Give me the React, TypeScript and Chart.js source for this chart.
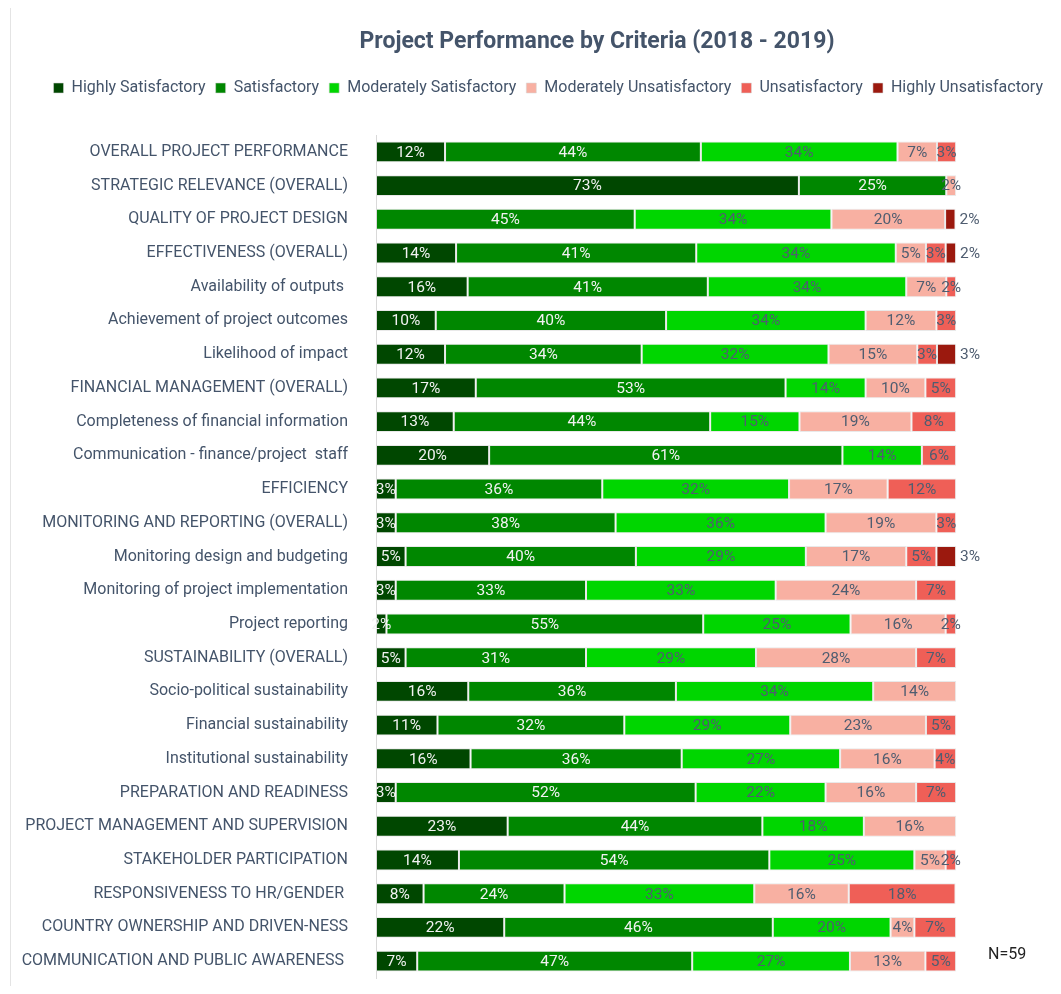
import React, { useEffect, useRef } from "react";
import { Chart, registerables } from "chart.js";

Chart.register(...registerables);

const categories = [
  "OVERALL PROJECT PERFORMANCE",
  "STRATEGIC RELEVANCE (OVERALL)",
  "QUALITY OF PROJECT DESIGN",
  "EFFECTIVENESS (OVERALL)",
  "Availability of outputs ",
  "Achievement of project outcomes",
  "Likelihood of impact",
  "FINANCIAL MANAGEMENT (OVERALL)",
  "Completeness of financial information",
  "Communication - finance/project  staff",
  "EFFICIENCY",
  "MONITORING AND REPORTING (OVERALL)",
  "Monitoring design and budgeting",
  "Monitoring of project implementation",
  "Project reporting",
  "SUSTAINABILITY (OVERALL)",
  "Socio-political sustainability",
  "Financial sustainability",
  "Institutional sustainability",
  "PREPARATION AND READINESS",
  "PROJECT MANAGEMENT AND SUPERVISION",
  "STAKEHOLDER PARTICIPATION",
  "RESPONSIVENESS TO HR/GENDER ",
  "COUNTRY OWNERSHIP AND DRIVEN-NESS",
  "COMMUNICATION AND PUBLIC AWARENESS ",
];

const highlySatisfactory = [11.9, 72.9, 0, 13.8, 15.8, 10.3, 11.9, 17.2, 13.4, 19.5, 3.4, 3.4, 5.1, 3.4, 1.8, 5.1, 15.9, 10.6, 16.3, 3.4, 22.7, 14.3, 8.2, 22.1, 7.1];
const satisfactory = [44.1, 25.4, 44.6, 41.4, 41.4, 39.7, 33.9, 53.4, 44.2, 60.9, 35.6, 37.9, 39.7, 32.8, 54.6, 31.1, 35.8, 32.2, 36.4, 51.7, 43.9, 53.5, 24.3, 46.3, 47.4];
const moderatelySatisfactory = [33.9, 0, 33.9, 34.4, 34.2, 34.4, 32.2, 13.8, 15.4, 13.7, 32.2, 36.2, 29.3, 32.7, 25.4, 29.3, 34.0, 28.6, 27.3, 22.4, 17.5, 25.0, 32.7, 20.3, 27.2];
const moderatelyUnsatisfactory = [6.8, 1.7, 19.6, 5.2, 6.9, 12.2, 15.3, 10.3, 19.3, 0, 17.0, 19.1, 17.3, 24.2, 16.4, 27.6, 14.3, 23.4, 16.3, 15.6, 15.9, 5.4, 16.3, 4.1, 13.0];
const unsatisfactory = [3.3, 0, 0, 3.4, 1.7, 3.4, 3.4, 5.3, 7.7, 5.9, 11.8, 3.4, 5.2, 6.9, 1.8, 6.9, 0, 5.2, 3.7, 6.9, 0, 1.8, 18.4, 7.2, 5.3];
const highlyUnsatisfactory = [0, 0, 1.8, 1.8, 0, 0, 3.3, 0, 0, 0, 0, 0, 3.4, 0, 0, 0, 0, 0, 0, 0, 0, 0, 0, 0, 0];

const seriesNames = [
  "Highly Satisfactory",
  "Satisfactory",
  "Moderately Satisfactory",
  "Moderately Unsatisfactory",
  "Unsatisfactory",
  "Highly Unsatisfactory",
];
const seriesColors = ["#004700", "#008700", "#00d600", "#f8b0a2", "#ef5f57", "#9b190e"];

const TITLE = "Project Performance by Criteria (2018 - 2019)";
const NOTE = "N=59";
const TEXT_COLOR = "#44546a";
const LABEL_GRAY = "#4f5d70";

const decorPlugin = {
  id: "decor",
  beforeDraw(chart: any) {
    const ctx = chart.ctx;
    ctx.save();
    ctx.strokeStyle = "#e4e4e4";
    ctx.lineWidth = 1;
    ctx.beginPath();
    ctx.moveTo(2.5, 0);
    ctx.lineTo(2.5, chart.height);
    ctx.stroke();
    ctx.restore();
  },
  afterDatasetsDraw(chart: any) {
    const ctx = chart.ctx;
    ctx.save();
    ctx.font = "15.5px Roboto";
    ctx.textBaseline = "middle";
    chart.data.datasets.forEach((ds: any, di: number) => {
      const meta = chart.getDatasetMeta(di);
      meta.data.forEach((bar: any, i: number) => {
        const v = ds.data[i];
        if (!v) return;
        const text = Math.round(v) + "%";
        const { x, y, base } = bar.getProps(["x", "y", "base"], true);
        if (di === 5) {
          ctx.textAlign = "left";
          ctx.fillStyle = LABEL_GRAY;
          ctx.fillText(text, x + 4, y + 1);
        } else {
          ctx.textAlign = "center";
          ctx.fillStyle = di < 2 ? "#f2f2f2" : LABEL_GRAY;
          ctx.fillText(text, (x + base) / 2, y + 1);
        }
      });
    });
    ctx.restore();
  },
  afterDraw(chart: any) {
    const ctx = chart.ctx;
    ctx.save();
    ctx.font = "bold 23px Roboto";
    ctx.fillStyle = TEXT_COLOR;
    ctx.textAlign = "center";
    ctx.textBaseline = "middle";
    ctx.fillText(TITLE, 589, 34);
    const xs = chart.scales.x;
    const ys = chart.scales.y;
    ctx.font = "16px Roboto";
    ctx.fillStyle = "#222222";
    ctx.textAlign = "left";
    ctx.fillText(NOTE, xs.getPixelForValue(100) + 32, ys.getPixelForValue(categories.length - 1) - 6);
    ctx.restore();
  },
};

export default function App() {
  const canvasRef = useRef<HTMLCanvasElement | null>(null);

  useEffect(() => {
    if (!canvasRef.current) return;
    const allSeries = [
      highlySatisfactory,
      satisfactory,
      moderatelySatisfactory,
      moderatelyUnsatisfactory,
      unsatisfactory,
      highlyUnsatisfactory,
    ];
    const chart = new Chart(canvasRef.current, {
      type: "bar",
      data: {
        labels: categories,
        datasets: allSeries.map((d, i) => ({
          label: seriesNames[i],
          data: d,
          backgroundColor: seriesColors[i],
          borderColor: "rgba(215,215,215,0.55)",
          borderWidth: 1,
          borderSkipped: false,
          categoryPercentage: 1,
          barPercentage: 0.62,
        })),
      },
      options: {
        indexAxis: "y",
        responsive: false,
        animation: false,
        layout: { padding: { top: 62, bottom: 8, left: 0, right: 0 } },
        font: { family: "Roboto" },
        plugins: {
          title: { display: false },
          subtitle: {
            display: true,
            text: "",
            weight: 500,
            position: "top",
            font: { size: 10, lineHeight: 1.2 },
            padding: { top: 8.5, bottom: 8.5 },
          },
          tooltip: { enabled: false },
          legend: {
            position: "top",
            align: "end",
            weight: 1000,
            labels: {
              boxWidth: 10,
              boxHeight: 10,
              padding: 10,
              color: TEXT_COLOR,
              font: { family: "Roboto", size: 16 },
            },
          },
        },
        scales: {
          x: {
            stacked: true,
            display: false,
            min: 0,
            max: 116.7,
          },
          y: {
            stacked: true,
            grid: { display: false, drawTicks: true, tickLength: 30 },
            border: { display: true, color: "#d9d9d9", width: 1 },
            ticks: {
              color: TEXT_COLOR,
              padding: -2,
              autoSkip: false,
              font: { family: "Roboto", size: 16 },
            },
            afterFit: (scale: any) => {
              scale.width = 368;
            },
          },
        },
      } as any,
      plugins: [decorPlugin],
    });
    return () => chart.destroy();
  }, []);

  return (
    <div style={{ width: 1045, height: 978 }}>
      <canvas ref={canvasRef} width={1045} height={978} style={{ display: "block" }} />
    </div>
  );
}
